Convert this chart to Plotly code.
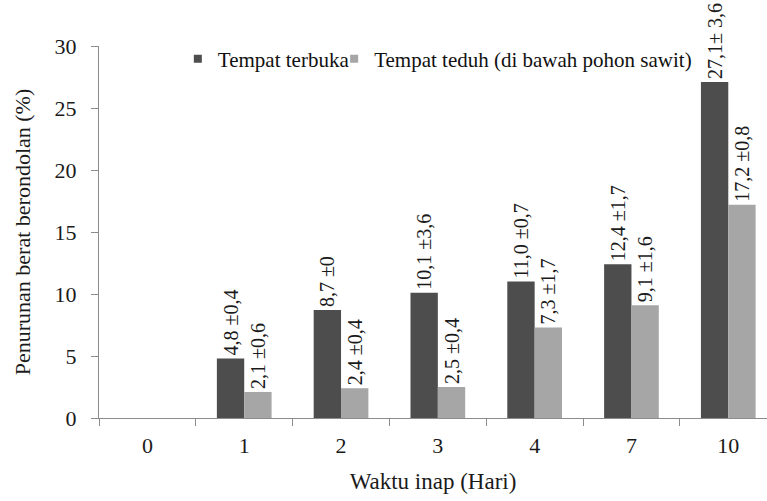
import plotly.graph_objects as go

# Storage time (days) and weight loss of loose fruits (%)
hari = ["0", "1", "2", "3", "4", "7", "10"]
terbuka = [None, 4.8, 8.7, 10.1, 11.0, 12.4, 27.1]
teduh = [None, 2.1, 2.4, 2.5, 7.3, 9.1, 17.2]
label_terbuka = ["", "4,8 ±0,4", "8,7 ±0", "10,1 ±3,6", "11,0 ±0,7", "12,4 ±1,7", "27,1± 3,6"]
label_teduh = ["", "2,1 ±0,6", "2,4 ±0,4", "2,5 ±0,4", "7,3 ±1,7", "9,1 ±1,6", "17,2 ±0,8"]
y_ticks = [0, 5, 10, 15, 20, 25, 30]

SERIF = "Liberation Serif, Times New Roman, serif"
DARK, LIGHT = "#4d4d4d", "#a6a6a6"
AXIS = "#8c8c8c"

fig = go.Figure()
for name, vals, labels, color in [
    ("Tempat terbuka", terbuka, label_terbuka, DARK),
    ("Tempat teduh (di bawah pohon sawit)", teduh, label_teduh, LIGHT),
]:
    fig.add_trace(go.Bar(
        x=hari, y=vals, name=name, showlegend=False,
        marker=dict(color=color, line=dict(width=0)),
        text=labels, textposition="outside", textangle=-90,
        constraintext="none", cliponaxis=False,
        textfont=dict(family=SERIF, size=20, color="#1a1a1a"),
    ))

# Legend entries with small square swatches, one legend box per series
for name, color, leg in [
    ("Tempat terbuka", DARK, "legend"),
    ("Tempat teduh (di bawah pohon sawit)", LIGHT, "legend2"),
]:
    fig.add_trace(go.Scatter(
        x=[None], y=[None], mode="markers", name=name, legend=leg,
        marker=dict(symbol="square", size=8, color=color),
    ))

legend_common = dict(
    orientation="h", yanchor="middle", xanchor="left", y=0.965,
    font=dict(family=SERIF, size=21, color="#111"),
    bgcolor="rgba(0,0,0,0)", itemwidth=30, borderwidth=0,
)

fig.update_layout(
    width=767, height=501,
    margin=dict(l=99, r=0, t=46, b=83),
    paper_bgcolor="white", plot_bgcolor="white",
    barmode="group", bargap=0.435, bargroupgap=0,
    font=dict(family=SERIF, size=20, color="#1a1a1a"),
    showlegend=True,
    legend=dict(x=0.118, **legend_common),
    legend2=dict(x=0.352, **legend_common),
    xaxis=dict(
        type="category", range=[-0.5, 6.4], tickson="boundaries", ticks="outside",
        ticklen=7, tickcolor=AXIS, linecolor=AXIS, linewidth=1,
        showline=True, showgrid=False, ticklabelstandoff=8,
        title=dict(text="Waktu inap (Hari)", font=dict(size=23), standoff=15),
        tickfont=dict(size=22),
    ),
    yaxis=dict(
        range=[0, 30], tickvals=y_ticks, ticks="outside", ticklen=7,
        tickcolor=AXIS, linecolor=AXIS, linewidth=1, showline=True,
        showgrid=False, zeroline=False, ticklabelstandoff=10,
        title=dict(text="Penurunan berat berondolan (%)", font=dict(size=22), standoff=17),
        tickfont=dict(size=22),
    ),
)

fig.write_html("out.html")
